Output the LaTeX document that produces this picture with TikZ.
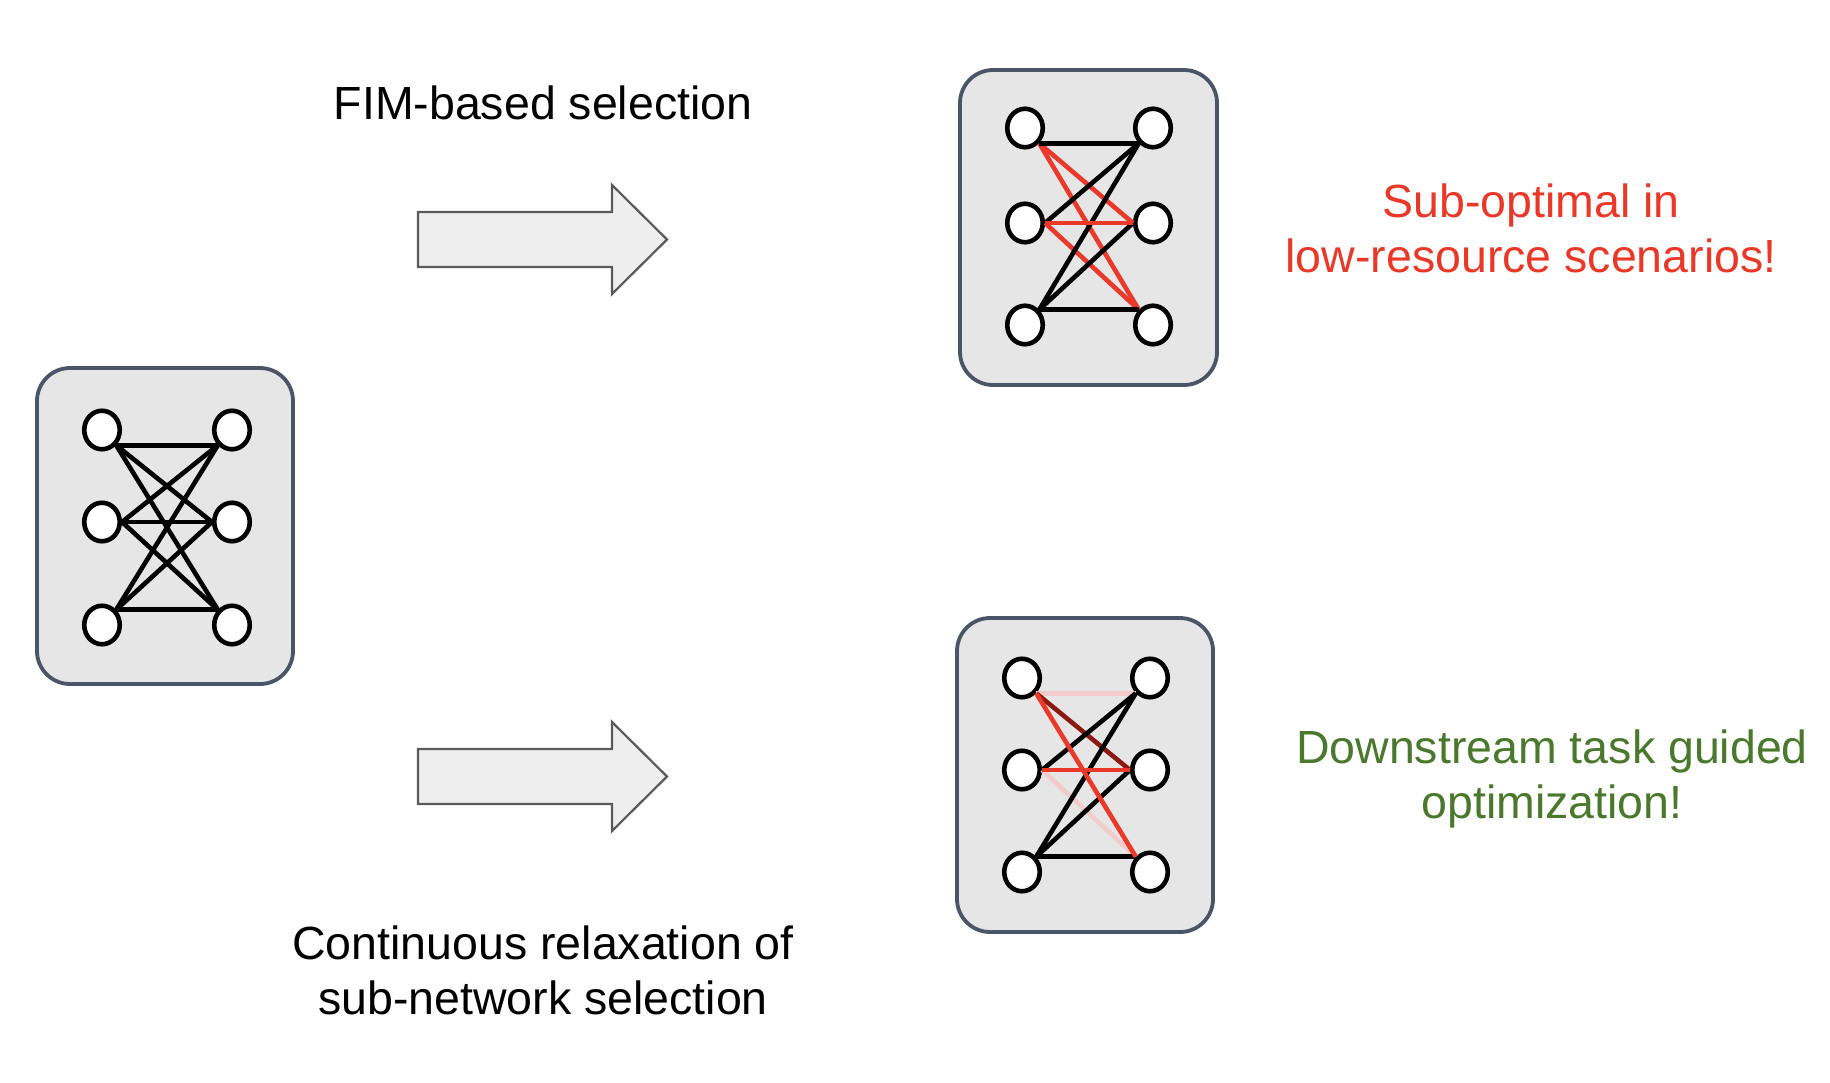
\documentclass[tikz,border=0pt]{standalone}
\usepackage{fontspec}
\setmainfont{Liberation Sans}
\usetikzlibrary{shapes.geometric}
\definecolor{boxfill}{HTML}{E6E6E6}
\definecolor{boxline}{HTML}{4A5568}
\definecolor{arrfill}{HTML}{EEEEEE}
\definecolor{arrline}{HTML}{5A5A5A}
\definecolor{hotred}{HTML}{E8392A}
\definecolor{deepred}{HTML}{8C1A10}
\definecolor{palered}{HTML}{F2CBCB}
\definecolor{txtred}{HTML}{EA3828}
\definecolor{txtgreen}{HTML}{4A782D}
\begin{document}
\begin{tikzpicture}[x=1pt,y=-1pt,
  netbox/.style={draw=boxline, fill=boxfill, line width=3.8pt, rounded corners=33pt, inner sep=0pt},
  neuron/.style={ellipse, draw=black, fill=white, line width=4.6pt, minimum width=35.5pt, minimum height=38.5pt, inner sep=0pt},
  wire/.style={line width=4.6pt, draw=black},
  redwire/.style={wire, draw=hotred},
  darkwire/.style={wire, draw=deepred},
  palewire/.style={wire, draw=palered},
  caption/.style={font=\fontsize{46.5}{55}\selectfont, align=center, inner sep=0pt},
  bigarrow/.style={draw=arrline, fill=arrfill, line width=2.2pt}
]
\useasboundingbox (0,0) rectangle (1830,1082);

% boxes
\node[netbox, minimum width=256pt, minimum height=316pt] (boxA) at (165,526) {};
\node[netbox, minimum width=257pt, minimum height=315pt] (boxB) at (1088.5,227.5) {};
\node[netbox, minimum width=256pt, minimum height=314pt] (boxC) at (1085,775) {};

% arrows
\draw[bigarrow] (418,212) -- (612,212) -- (612,185) -- (667,239.5) -- (612,294) -- (612,267) -- (418,267) -- cycle;
\draw[bigarrow] (418,749) -- (612,749) -- (612,722) -- (667,776.5) -- (612,831) -- (612,804) -- (418,804) -- cycle;

% network A
\node[neuron] (a1) at (102,430) {};
\node[neuron] (a2) at (102,522) {};
\node[neuron] (a3) at (102,625) {};
\node[neuron] (b1) at (232,430) {};
\node[neuron] (b2) at (232,522) {};
\node[neuron] (b3) at (232,625) {};
\draw[wire] (a1.south east) -- (b1.south west);
\draw[wire] (a1.south east) -- (b2.west);
\draw[wire] (a1.south east) -- (b3.north west);
\draw[wire] (a2.east) -- (b1.south west);
\draw[wire] (a2.east) -- (b2.west);
\draw[wire] (a2.east) -- (b3.north west);
\draw[wire] (a3.north east) -- (b1.south west);
\draw[wire] (a3.north east) -- (b2.west);
\draw[wire] (a3.north east) -- (b3.north west);

% network B
\node[neuron] (c1) at (1025,128) {};
\node[neuron] (c2) at (1025,223) {};
\node[neuron] (c3) at (1025,325) {};
\node[neuron] (d1) at (1153,128) {};
\node[neuron] (d2) at (1153,223) {};
\node[neuron] (d3) at (1153,325) {};
\draw[redwire] (c1.south east) -- (d2.west);
\draw[redwire] (c1.south east) -- (d3.north west);
\draw[redwire] (c2.east) -- (d3.north west);
\draw[wire] (c1.south east) -- (d1.south west);
\draw[wire] (c2.east) -- (d1.south west);
\draw[wire] (c3.north east) -- (d1.south west);
\draw[wire] (c3.north east) -- (d2.west);
\draw[wire] (c3.north east) -- (d3.north west);
\draw[redwire] (c2.east) -- (d2.west);

% network C
\node[neuron] (e1) at (1022,678) {};
\node[neuron] (e2) at (1022,770) {};
\node[neuron] (e3) at (1022,872) {};
\node[neuron] (f1) at (1150,678) {};
\node[neuron] (f2) at (1150,770) {};
\node[neuron] (f3) at (1150,872) {};
\draw[palewire] (e1.south east) -- (f1.south west);
\draw[palewire] (e2.east) -- (f3.north west);
\draw[darkwire] (e1.south east) -- (f2.west);
\draw[wire] (e2.east) -- (f1.south west);
\draw[wire] (e3.north east) -- (f1.south west);
\draw[wire] (e3.north east) -- (f2.west);
\draw[wire] (e3.north east) -- (f3.north west);
\draw[redwire] (e1.south east) -- (f3.north west);
\draw[redwire] (e2.east) -- (f2.west);

% captions
\node[caption] (fim) at (543,103) {FIM-based selection};
\node[caption] (cont) at (543,970) {Continuous relaxation of\\sub-network selection};
\node[caption, text=txtred] (subopt) at (1531,228) {Sub-optimal in\\low-resource scenarios!};
\node[caption, text=txtgreen] (down) at (1552,779) {Downstream task guided\\optimization!};
\end{tikzpicture}
\end{document}
